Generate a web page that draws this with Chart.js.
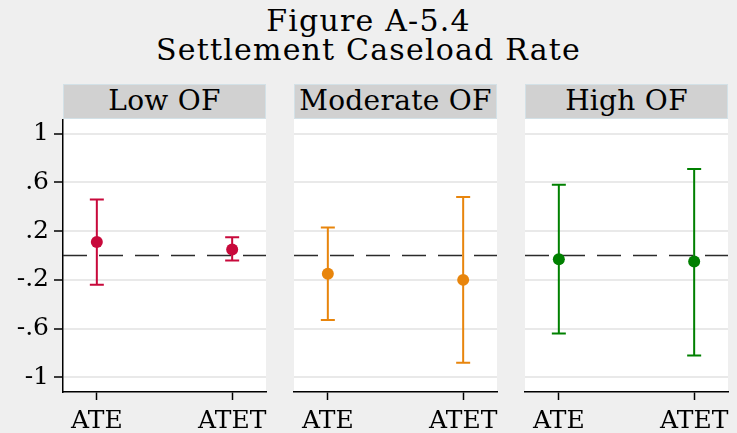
<!DOCTYPE html>
<html>
<head>
<meta charset="utf-8">
<script src="https://cdn.jsdelivr.net/npm/chart.js@4.4.1/dist/chart.umd.min.js"></script>
<style>
  body { margin: 0; background: #efefef; font-family: "DejaVu Serif", serif; color: #000; }
  .page { position: relative; width: 737px; height: 433px; overflow: hidden; }
  .title { position: absolute; left: 0; width: 737px; text-align: center; font-size: 30px; line-height: 30px;
           letter-spacing: 1.2px; white-space: nowrap; }
  .strip { position: absolute; top: 84px; height: 35px; background: #d1d1d1; border: 1px solid #d3e1e7;
           box-sizing: border-box; text-align: center; font-size: 28px; line-height: 32px; letter-spacing: 0.3px;
           white-space: nowrap; }
  .panel { position: absolute; top: 119px; }
  .panel canvas { display: block; }
</style>
</head>
<body>
<div class="page">
  <div class="title" style="top:6px">Figure A-5.4</div>
  <div class="title" style="top:35px">Settlement Caseload Rate</div>

  <div class="strip" style="left:63px;width:203px">Low OF</div>
  <div class="strip" style="left:294px;width:203px">Moderate OF</div>
  <div class="strip" style="left:525px;width:203px">High OF</div>

  <div class="panel" style="left:0px"><canvas id="c1" width="280" height="314"></canvas></div>
  <div class="panel" style="left:284px"><canvas id="c2" width="227" height="314"></canvas></div>
  <div class="panel" style="left:515px"><canvas id="c3" width="222" height="314"></canvas></div>
</div>

<script>
// categories and y axis
const categories = ["ATE", "ATET"];
const yTicks = [-1, -0.6, -0.2, 0.2, 0.6, 1];
const yTickLabels = ["-1", "-.6", "-.2", ".2", ".6", "1"];

// point estimates and confidence limits
const lowEst = [0.11, 0.05];
const lowLo = [-0.24, -0.04];
const lowHi = [0.46, 0.15];

const modEst = [-0.15, -0.2];
const modLo = [-0.53, -0.88];
const modHi = [0.23, 0.48];

const highEst = [-0.03, -0.05];
const highLo = [-0.64, -0.82];
const highHi = [0.58, 0.71];

const FONT = "DejaVu Serif";

// white plot region
const plotBg = {
  id: "plotBg",
  beforeDraw(chart) {
    const a = chart.chartArea, ctx = chart.ctx;
    ctx.save();
    ctx.fillStyle = "#ffffff";
    ctx.fillRect(a.left, a.top, a.right - a.left, a.bottom - a.top);
    ctx.restore();
  }
};

// zero line + whiskers, drawn under the dots
const errorBars = {
  id: "errorBars",
  beforeDatasetsDraw(chart) {
    const ctx = chart.ctx, a = chart.chartArea;
    const xs = chart.scales.x, ys = chart.scales.y;
    ctx.save();
    // dashed reference line at 0
    const y0 = ys.getPixelForValue(0);
    ctx.strokeStyle = "#2b2b2b";
    ctx.lineWidth = 1.5;
    ctx.setLineDash([24, 12]);
    ctx.beginPath();
    ctx.moveTo(a.left, y0);
    ctx.lineTo(a.right, y0);
    ctx.stroke();
    ctx.setLineDash([]);

    const ds = chart.data.datasets[0];
    ctx.strokeStyle = ds.backgroundColor;
    ctx.lineWidth = 2;
    ds.data.forEach((p, i) => {
      const x = xs.getPixelForValue(p.x);
      const yl = ys.getPixelForValue(ds.lo[i]);
      const yh = ys.getPixelForValue(ds.hi[i]);
      ctx.beginPath();
      ctx.moveTo(x, yl); ctx.lineTo(x, yh);
      ctx.moveTo(x - 7, yl); ctx.lineTo(x + 7, yl);
      ctx.moveTo(x - 7, yh); ctx.lineTo(x + 7, yh);
      ctx.stroke();
    });
    ctx.restore();
  }
};

// no extra room for label overhang, the panel box is fixed
const noPad = (s) => {
  s.paddingTop = 0;
  s.paddingBottom = 0;
  s.paddingLeft = 0;
  s.paddingRight = 0;
};

const makePanel = (id, est, lo, hi, color, showY, padLeft, padRight) => {
  const ctx = document.getElementById(id);
  return new Chart(ctx, {
    type: "scatter",
    data: {
      datasets: [{
        data: est.map((v, i) => ({ x: i + 1, y: v })),
        lo: lo,
        hi: hi,
        backgroundColor: color,
        borderWidth: 0,
        pointRadius: 6,
        pointHoverRadius: 6
      }]
    },
    options: {
      responsive: false,
      animation: false,
      events: [],
      layout: { autoPadding: false, padding: { left: padLeft, right: padRight, top: 0, bottom: 0 } },
      plugins: { legend: { display: false }, tooltip: { enabled: false } },
      scales: {
        x: {
          type: "linear",
          min: 0.75,
          max: 2.25,
          afterBuildTicks: (s) => { s.ticks = categories.map((c, i) => ({ value: i + 1 })); },
          afterFit: (s) => { s.height = 41; noPad(s); },
          ticks: {
            callback: (v) => categories[v - 1],
            font: { family: FONT, size: 25 },
            color: "#000",
            padding: 6,
            maxRotation: 0,
            autoSkip: false
          },
          grid: { drawOnChartArea: false, drawTicks: true, tickLength: 8, tickColor: "#000", tickWidth: 1.5 },
          border: { display: true, color: "#000", width: 1.5 }
        },
        y: {
          type: "linear",
          min: -1.12,
          max: 1.12,
          afterBuildTicks: (s) => { s.ticks = yTicks.map((v) => ({ value: v })); },
          afterFit: (s) => { s.width = showY ? 63 : 0; noPad(s); },
          ticks: {
            display: showY,
            callback: (v) => yTickLabels[yTicks.indexOf(v)],
            font: { family: FONT, size: 25 },
            color: "#000",
            padding: 5
          },
          grid: { color: "#e9e9e9", lineWidth: 2, drawTicks: showY, tickLength: 9, tickColor: "#000", tickWidth: 1.5 },
          border: { display: showY, color: "#000", width: 1.5 }
        }
      }
    },
    plugins: [plotBg, errorBars]
  });
};

makePanel("c1", lowEst, lowLo, lowHi, "#c8093b", true, 0, 14);
makePanel("c2", modEst, modLo, modHi, "#e8850c", false, 10, 14);
makePanel("c3", highEst, highLo, highHi, "#008000", false, 10, 9);
</script>
</body>
</html>
